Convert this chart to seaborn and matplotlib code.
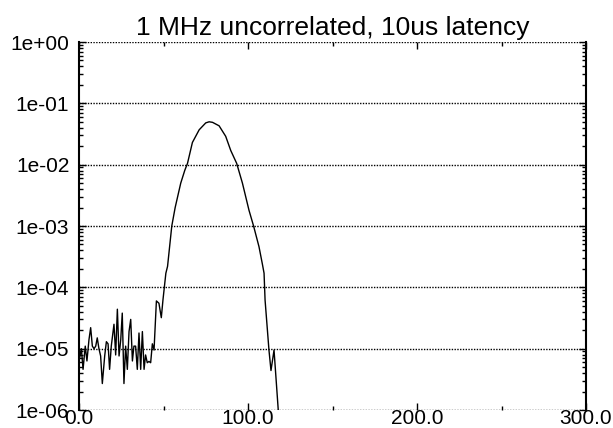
import numpy as np
import pandas as pd
import matplotlib
matplotlib.use("Agg")
import matplotlib.pyplot as plt
import seaborn as sns
from matplotlib.ticker import FixedLocator, FuncFormatter, LogLocator, NullFormatter

# ---- data ----
latency_us = [0.4, 1.4, 2.4, 3.7, 4.7, 5.9, 6.9, 7.9, 8.9, 9.9,
              10.8, 11.8, 12.8, 13.8, 15.2, 16.2, 17.2, 18.1, 19.1, 20.7,
              21.7, 22.7, 23.7, 24.7, 25.6, 26.6, 27.6, 28.6, 29.6, 30.6,
              31.6, 32.5, 33.5, 34.5, 35.5, 36.5, 37.5, 38.5, 39.4, 40.4,
              41.4, 42.4, 43.4, 44.4, 45.8, 47.3, 48.7, 49.7, 51.4, 52.4,
              54.9, 56.9, 60.2, 62.6, 64.2, 67.1, 71.1, 75.0, 77.0, 79.0,
              82.9, 86.8, 89.8, 93.3, 96.7, 100.6, 103.3, 106.5, 108.5, 109.5,
              110.1, 112.4, 113.6, 115.4, 117.9]
probability = [7.1e-6, 1.0e-5, 4.6e-6, 1.1e-5, 6.3e-6, 1.4e-5, 2.2e-5, 1.1e-5, 1.0e-5, 1.1e-5,
               1.5e-5, 1.0e-5, 7.6e-6, 2.7e-6, 7.6e-6, 1.3e-5, 1.2e-5, 4.6e-6, 1.1e-5, 2.5e-5,
               7.9e-6, 4.4e-5, 7.6e-6, 1.4e-5, 3.8e-5, 2.7e-6, 1.1e-5, 4.6e-6, 1.9e-5, 3.0e-5,
               6.3e-6, 1.1e-5, 1.1e-5, 4.6e-6, 1.8e-5, 4.6e-6, 1.9e-5, 4.6e-6, 7.9e-6, 5.9e-6,
               6.2e-6, 5.9e-6, 1.2e-5, 9.5e-6, 6.0e-5, 5.5e-5, 3.2e-5, 6.3e-5, 1.7e-4, 2.2e-4,
               1.0e-3, 2.0e-3, 5.0e-3, 8.1e-3, 1.05e-2, 2.3e-2, 3.7e-2, 4.8e-2, 5.0e-2, 4.9e-2,
               4.3e-2, 2.9e-2, 1.7e-2, 1.05e-2, 5.0e-3, 1.8e-3, 1.0e-3, 4.6e-4, 2.4e-4, 1.7e-4,
               6.2e-5, 9.5e-6, 4.4e-6, 9.5e-6, 1.0e-6]

x_ticks = [0, 100, 200, 300]
x_minor_ticks = [50, 150, 250]
y_ticks = [1e-6, 1e-5, 1e-4, 1e-3, 1e-2, 1e-1, 1e0]
title = "1 MHz uncorrelated, 10us latency"

df = pd.DataFrame({"latency": latency_us, "prob": probability})

sns.set_style("white")
plt.rcParams["font.family"] = ["Liberation Sans", "DejaVu Sans"]
plt.rcParams["text.color"] = "black"

fig = plt.figure(figsize=(6.13, 4.28), dpi=100)
ax = fig.add_axes([79 / 613, 1 - 410 / 428, (586 - 79) / 613, (410 - 42) / 428])

sns.lineplot(data=df, x="latency", y="prob", ax=ax, color="black",
             linewidth=1.0, estimator=None, sort=False)

ax.set_yscale("log")
ax.set_xlim(0, 300)
ax.set_ylim(1e-6, 1e0)
ax.set_xlabel("")
ax.set_ylabel("")

ax.xaxis.set_major_locator(FixedLocator(x_ticks))
ax.xaxis.set_minor_locator(FixedLocator(x_minor_ticks))
ax.xaxis.set_major_formatter(FuncFormatter(lambda v, p: f"{v:.1f}"))
ax.yaxis.set_major_locator(FixedLocator(y_ticks))
ax.yaxis.set_minor_locator(LogLocator(base=10, subs=np.arange(2, 10), numticks=20))
ax.yaxis.set_minor_formatter(NullFormatter())
ax.yaxis.set_major_formatter(FuncFormatter(lambda v, p: f"{v:.0e}"))

ax.grid(False)
ax.yaxis.grid(True, which="major", color="black", linestyle=(0, (1, 1)), linewidth=1.0)
ax.set_axisbelow(False)

for s in ["top", "bottom"]:
    ax.spines[s].set_visible(False)
for s in ["left", "right"]:
    ax.spines[s].set_visible(True)
    ax.spines[s].set_color("black")
    ax.spines[s].set_linewidth(1.5)

ax.tick_params(axis="both", which="both", direction="in", colors="black",
               labelcolor="black", top=True, bottom=True, left=True, right=True)
ax.tick_params(axis="both", which="major", length=5, width=1)
ax.tick_params(axis="both", which="minor", length=3, width=1)
ax.tick_params(axis="x", which="major", labelsize=15, pad=-1)
ax.tick_params(axis="y", which="major", labelsize=15, pad=7)

ax.set_title(title, fontsize=19, pad=5, color="black")

fig.savefig("out.png", dpi=100)
